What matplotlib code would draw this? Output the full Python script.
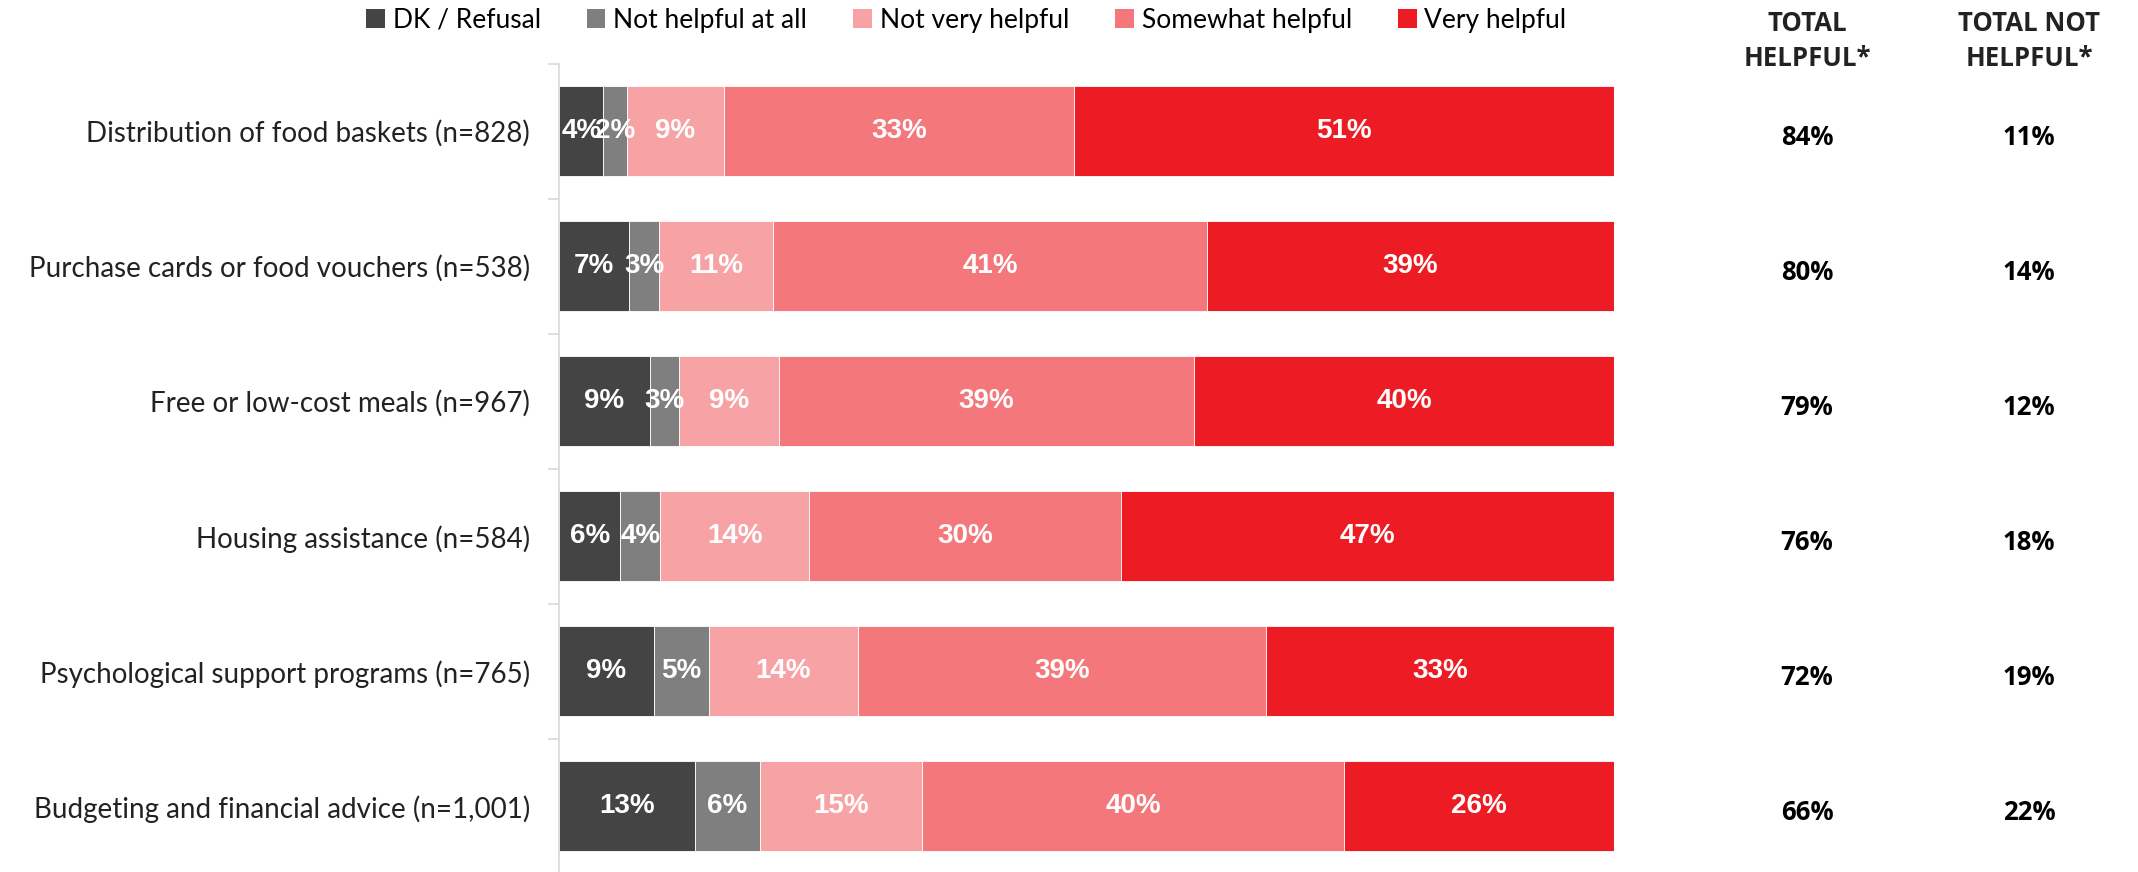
import numpy as np
import matplotlib
matplotlib.use("Agg")
from matplotlib import pyplot as plt
from matplotlib import transforms
from matplotlib.patches import Patch

# Survey results (percent of respondents, unrounded shares)
programs = [
    "Distribution of food baskets (n=828)",
    "Purchase cards or food vouchers (n=538)",
    "Free or low-cost meals (n=967)",
    "Housing assistance (n=584)",
    "Psychological support programs (n=765)",
    "Budgeting and financial advice (n=1,001)",
]
responses = ["DK / Refusal", "Not helpful at all", "Not very helpful",
             "Somewhat helpful", "Very helpful"]
dk_refusal = [4.2, 6.6, 8.6, 5.8, 9.0, 12.9]
not_helpful_at_all = [2.2, 2.9, 2.8, 3.8, 5.2, 6.1]
not_very_helpful = [9.2, 10.8, 9.4, 14.1, 14.1, 15.4]
somewhat_helpful = [33.2, 41.1, 39.4, 29.6, 38.7, 40.0]
very_helpful = [51.2, 38.6, 39.8, 46.7, 33.0, 25.6]
total_helpful = [84, 80, 79, 76, 72, 66]
total_not_helpful = [11, 14, 12, 18, 19, 22]

colors = ["#444444", "#7f7f7f", "#f7a3a6", "#f4777b", "#ed1c24"]

label_font = ["Lato", "DejaVu Sans"]
num_font = ["Liberation Sans", "DejaVu Sans"]
head_font = ["Open Sans", "DejaVu Sans"]

fig = plt.figure(figsize=(21.38, 8.72), dpi=100)
ax = fig.add_axes([0.2615, -0.002, 0.4934, 0.929])

series = [dk_refusal, not_helpful_at_all, not_very_helpful,
          somewhat_helpful, very_helpful]
y = np.arange(len(programs))
left = np.zeros(len(programs))
for vals, col in zip(series, colors):
    vals = np.array(vals, dtype=float)
    ax.barh(y, vals, left=left, height=0.667, color=col,
            edgecolor="white", linewidth=0.6)
    for yi, l, v in zip(y, left, vals):
        ax.text(l + v / 2, yi, f"{v:.0f}%", ha="center", va="center",
                color="white", fontsize=20, fontweight="bold",
                family=num_font)
    left += vals

ax.set_xlim(0, 100)
ax.set_ylim(len(programs) - 0.5, -0.5)

# category labels sit between boundary ticks
ax.set_yticks(y)
ax.set_yticklabels(programs, fontsize=20, family=label_font, color="#222222")
ax.set_yticks(np.arange(-0.5, len(programs)), minor=True)
ax.tick_params(axis="y", which="major", length=0, pad=21)
ax.tick_params(axis="y", which="minor", length=8, color="#d9d9d9", width=1.2)
ax.set_xticks([])
for side in ["top", "right", "bottom"]:
    ax.spines[side].set_visible(False)
ax.spines["left"].set_color("#d9d9d9")
ax.spines["left"].set_linewidth(1.2)

# totals columns to the right of the bars
tr = transforms.blended_transform_factory(fig.transFigure, ax.transData)
col_x = [1807 / 2138, 2029 / 2138]
for cx, vals in zip(col_x, [total_helpful, total_not_helpful]):
    for yi, v in zip(y, vals):
        ax.text(cx, yi + 0.05, f"{v}%", transform=tr, ha="center",
                va="center", fontsize=18.5, fontweight="bold",
                family=head_font, color="black")
for cx, head in zip(col_x, ["TOTAL\nHELPFUL*", "TOTAL NOT\nHELPFUL*"]):
    fig.text(cx, 0.953, head, ha="center", va="center", fontsize=18.5,
             fontweight="bold", family=head_font, color="#222222",
             linespacing=1.36)

handles = [Patch(facecolor=c, edgecolor="none") for c in colors]
fig.legend(handles, responses, loc="center", bbox_to_anchor=(0.452, 0.977),
           ncol=5, frameon=False, handlelength=0.7,
           handleheight=0.7, handletextpad=0.3, columnspacing=1.75,
           prop={"family": label_font, "size": 19})

fig.savefig("out.png", dpi=100)
